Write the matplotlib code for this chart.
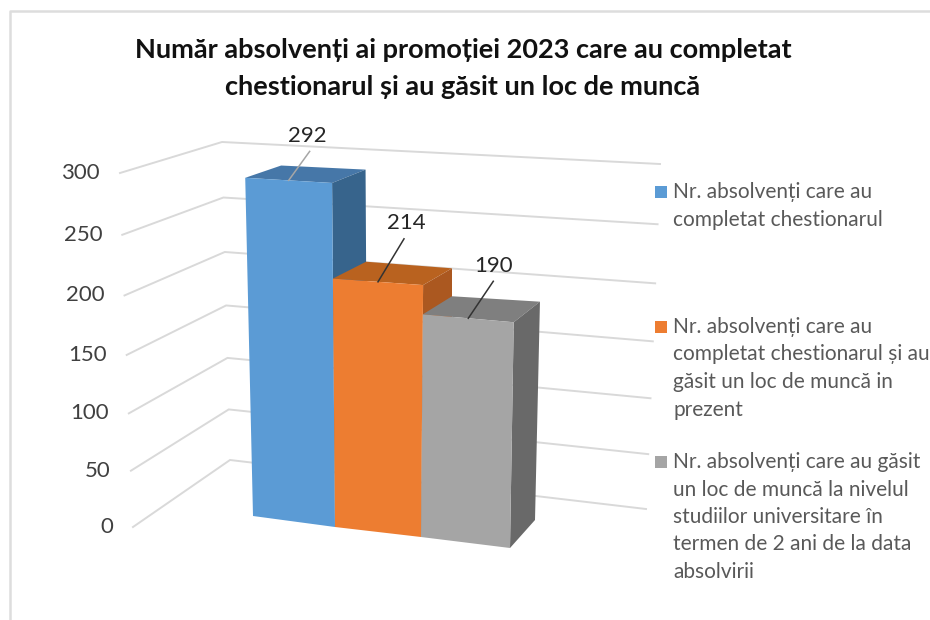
import matplotlib
matplotlib.use('Agg')
import matplotlib.pyplot as plt
from matplotlib.patches import Rectangle

plt.rcParams['font.family'] = ['Lato', 'DejaVu Sans']

title_lines = ['Număr absolvenți ai promoției 2023 care au completat',
               'chestionarul și au găsit un loc de muncă']
values = [292, 214, 190]
ticks = [0, 50, 100, 150, 200, 250, 300]
series_labels = [
    ['Nr. absolvenți care au', 'completat chestionarul'],
    ['Nr. absolvenți care au', 'completat chestionarul și au',
     'găsit un loc de muncă in', 'prezent'],
    ['Nr. absolvenți care au găsit', 'un loc de muncă la nivelul',
     'studiilor universitare în', 'termen de 2 ani de la data', 'absolvirii'],
]

# face colours per bar: front, top, side
front_colors = ['#5B9BD5', '#ED7D31', '#A5A5A5']
top_colors = ['#4677A8', '#B9621F', '#7F7F7F']
side_colors = ['#37648C', '#AB5820', '#696969']
grid_color = '#D9D9D9'
text_color = '#404040'
legend_color = '#595959'

VMAX = 300
PERSP = 0.9455  # vertical foreshortening of the fake 3d view

# fake 3d box: each edge goes from its pixel at value 0 to its pixel at VMAX
wall_edges = [((133, 527), (120, 173)),
              ((230, 460), (222, 142)),
              ((646, 509), (660, 164))]
front_edges = [((253, 516), (245, 168)),
               ((335, 527), (332, 173)),
               ((421, 537), (424, 178)),
               ((510, 548), (516, 184))]
back_edges = [((286, 494), (281, 156)),
              ((367.5, 501), (365.5, 160)),
              ((452, 509), (452, 166)),
              ((535, 520), (543, 168))]

# leader end and label centre, relative to the middle of the front top edge
leader_offsets = [(21, -29), (26, -43), (25, -37)]
label_offsets = [(18.5, -44.5), (28, -58.5), (25, -52.5)]
leader_colors = ['#A6A6A6', '#333333', '#333333']

legend_first_y = [192, 327, 462]
LINE_STEP = 27.5


def project(edge, v):
    t = v / VMAX
    s = PERSP * t / (1 + t * (PERSP - 1))
    (x0, y0), (x1, y1) = edge
    return x0 + (x1 - x0) * s, y0 + (y1 - y0) * s


fig = plt.figure(figsize=(9.3, 6.2), dpi=100)
ax = fig.add_axes([0, 0, 1, 1])
ax.set_xlim(0, 930)
ax.set_ylim(620, 0)
ax.axis('off')

# chart frame
ax.plot([10, 10, 930], [620, 10.5, 10.5], color='#DDDDDD', lw=1.8, zorder=1)

# gridlines along the two walls
for v in ticks:
    pts = [project(e, v) for e in wall_edges]
    ax.plot([p[0] for p in pts], [p[1] for p in pts], color=grid_color, lw=1.4,
            solid_joinstyle='miter', zorder=2)
    x, y = pts[0]
    ax.text(x - 20, y, str(v), ha='right', va='center', fontsize=16,
            color=text_color, zorder=6)

# bars, back to front
for i, v in enumerate(values):
    fl = project(front_edges[i], v)
    fr = project(front_edges[i + 1], v)
    bl = project(back_edges[i], v)
    br = project(back_edges[i + 1], v)
    fr0 = project(front_edges[i + 1], 0)
    fl0 = project(front_edges[i], 0)
    br0 = project(back_edges[i + 1], 0)

    for poly, col in [([fl, fr, br, bl], top_colors[i]),
                      ([fr, br, br0, fr0], side_colors[i]),
                      ([fl, fr, fr0, fl0], front_colors[i])]:
        ax.fill([p[0] for p in poly], [p[1] for p in poly], color=col, lw=0,
                zorder=3)

# leaders and value labels go on top of all bars
for i, v in enumerate(values):
    fl = project(front_edges[i], v)
    fr = project(front_edges[i + 1], v)
    mx, my = (fl[0] + fr[0]) / 2, (fl[1] + fr[1]) / 2
    dx, dy = leader_offsets[i]
    ax.plot([mx, mx + dx], [my, my + dy], color=leader_colors[i], lw=1.1, zorder=5)
    lx, ly = label_offsets[i]
    ax.text(mx + lx, my + ly, str(v), ha='center', va='center', fontsize=16,
            color='#262626', zorder=6)

# legend
for i, lines in enumerate(series_labels):
    y0 = legend_first_y[i]
    ax.add_patch(Rectangle((654.5, y0 - 6), 12, 12, color=front_colors[i], lw=0, zorder=4))
    for j, line in enumerate(lines):
        ax.text(673, y0 + j * LINE_STEP, line, ha='left', va='center', fontsize=15,
                color=legend_color, zorder=6)

# title
for line, y in zip(title_lines, [50, 87]):
    ax.text(463, y, line, ha='center', va='center', fontsize=19.5, fontweight='bold',
            color='#111111', zorder=6)

fig.savefig('out.png', dpi=100)
